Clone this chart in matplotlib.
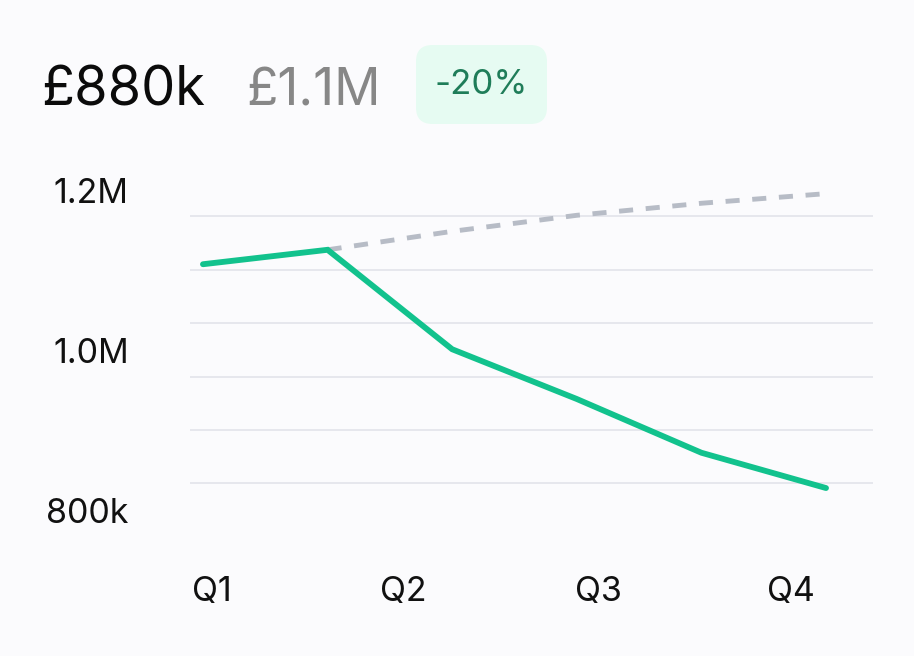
import matplotlib.pyplot as plt
from matplotlib.patches import FancyBboxPatch
from matplotlib.transforms import ScaledTranslation

# chart values
points = [0, 1, 2, 3, 4, 5]
actual = [1140000, 1158000, 1034000, 972000, 905000, 861000]
target_points = [1, 2, 3, 4, 5]
target = [1158000, 1181000, 1201000, 1216000, 1228000]
quarter_labels = ['Q1', 'Q2', 'Q3', 'Q4']
quarter_pos = [0.07, 1.61, 3.17, 4.72]
ytick_values = [800000, 1000000, 1200000]
ytick_labels = ['800k', '1.0M', '1.2M']
grid_values = [866667, 933333, 1000000, 1066667, 1133333, 1200000]

headline = '£880k'
compare = '£1.1M'
change = '-20%'

BG = '#fbfbfd'
GREEN = '#12c28d'
FONT = 'Inter'

W, H = 914, 656
fig = plt.figure(figsize=(W / 100, H / 100), dpi=100)
fig.patch.set_facecolor(BG)

def px(x, y):
    # pixel position (from top-left) -> figure fraction
    return x / W, 1 - y / H

ax = fig.add_axes([190 / W, 1 - 545 / H, (873 - 190) / W, (545 - 180) / H])
ax.set_facecolor(BG)

for g in grid_values:
    ax.axhline(g, color='#e2e4ea', lw=1.2, zorder=1)

ax.plot(target_points, target, color='#b7bcc6', lw=3.5, dashes=(2.9, 2.6), zorder=2)
ax.plot(points, actual, color=GREEN, lw=4.2, solid_capstyle='round',
        solid_joinstyle='miter', zorder=3)

ax.set_xlim(-0.104, 5.377)
ax.set_ylim(790000, 1245000)

ax.set_xticks(quarter_pos)
ax.set_xticklabels(quarter_labels, fontsize=24.5, family=FONT, color='#111111')
ax.set_yticks(ytick_values)
ax.set_yticklabels(ytick_labels, fontsize=24.5, family=FONT, color='#111111')
ax.tick_params(axis='both', length=0)
ax.tick_params(axis='y', pad=44)
ax.tick_params(axis='x', pad=22)
# labels sit a little above their gridline in the design
for lab in ax.get_yticklabels():
    lab.set_transform(lab.get_transform() + ScaledTranslation(0, 0.26, fig.dpi_scale_trans))

for s in ax.spines.values():
    s.set_visible(False)

# header
x, y = px(41, 106)
fig.text(x, y, headline, fontsize=39, family=FONT, color='#0b0b0b', va='baseline', ha='left')
x, y = px(246, 106)
fig.text(x, y, compare, fontsize=37, family=FONT, color='#878787', va='baseline', ha='left')

bx, by = px(416, 124)
badge = FancyBboxPatch((bx, by), 131 / W, 79 / H,
                       boxstyle='round,pad=0,rounding_size=0.018',
                       transform=fig.transFigure, facecolor='#e6fbf2',
                       edgecolor='none', mutation_aspect=W / H)
fig.patches.append(badge)
x, y = px(481, 85)
fig.text(x, y, change, fontsize=25, family=FONT, color='#1f7d59', va='center', ha='center')

fig.savefig('out.png', dpi=100, facecolor=BG)
